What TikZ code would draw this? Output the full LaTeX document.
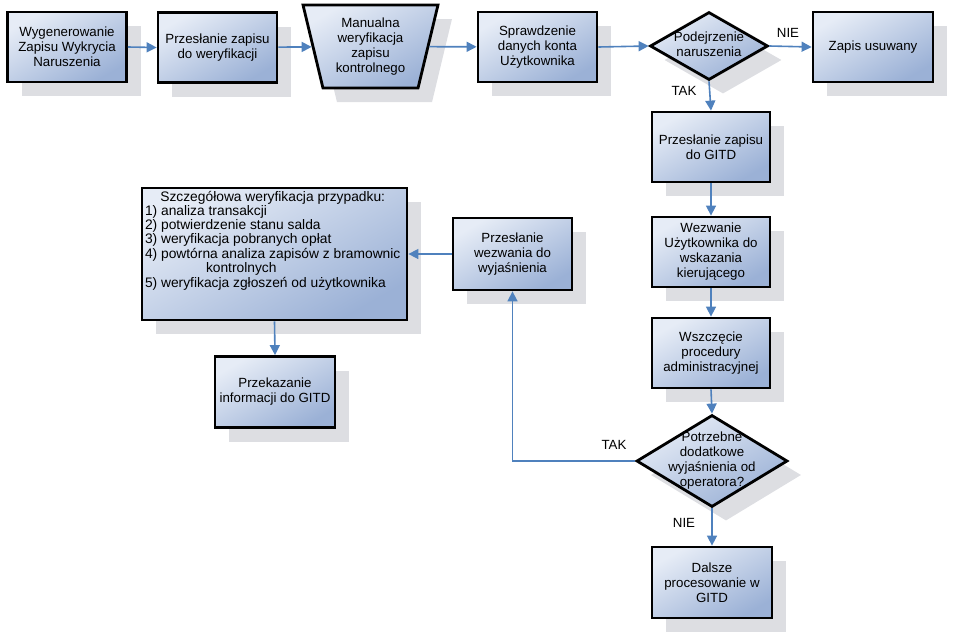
\documentclass[tikz,border=0pt]{standalone}
\usepackage{fontspec}
\setmainfont{Liberation Sans}
\usetikzlibrary{shapes.geometric, shadows, arrows.meta}

\definecolor{boxlight}{RGB}{230,236,246}
\definecolor{boxdark}{RGB}{155,177,214}
\definecolor{shadowgray}{RGB}{221,222,226}
\definecolor{flowblue}{RGB}{79,129,189}

\newcommand{\decisiontext}[1]{\makebox[0pt]{\smash{\raisebox{-4pt}{\begin{tabular}{@{}c@{}}#1\end{tabular}}}}}

\begin{document}
\begin{tikzpicture}[x=1pt, y=-1pt,
	font=\fontsize{13.3pt}{15pt}\selectfont,
	shaded/.style={draw=black, line width=2.8pt, top color=boxlight, bottom color=boxdark, shading angle=30,
		drop shadow={shadow xshift=14pt, shadow yshift=-14pt, fill=shadowgray, opacity=1, draw=none}},
	process/.style={shaded, rectangle, minimum width=119pt, minimum height=70pt, align=center, inner sep=2pt},
	manual/.style={shaded, trapezium, shape border rotate=180, trapezium left angle=76, trapezium right angle=76,
		trapezium stretches=true, minimum width=135pt, minimum height=83pt, align=center},
	decision/.style={shaded, diamond, inner sep=0pt},
	flow/.style={draw=flowblue, line width=1.6pt, -{Triangle[width=10pt, length=10pt]}},
	answer/.style={font=\fontsize{13.3pt}{15pt}\selectfont}]
	\useasboundingbox (0, 0) rectangle (956, 643);
	% top row
	\node (w1) at (67, 47) [process] {Wygenerowanie\\Zapisu Wykrycia\\Naruszenia};
	\node (p1) at (217.5, 47.5) [process] {Przesłanie zapisu\\do weryfikacji};
	\node (man) at (370.5, 46.5) [manual] {Manualna\\weryfikacja\\zapisu\\kontrolnego};
	\node (spr) at (537.5, 47) [process] {Sprawdzenie\\danych konta\\Użytkownika};
	\node (dia1) at (709, 46) [decision, minimum width=118pt, minimum height=68pt] {\decisiontext{Podejrzenie\\naruszenia}};
	\node (zap) at (873, 47) [process, minimum width=120pt] {Zapis usuwany};
	% right column
	\node (gitd) at (711, 147) [process, minimum width=118pt] {Przesłanie zapisu\\do GITD};
	\node (wez) at (711, 252) [process, minimum width=118pt] {Wezwanie\\Użytkownika do\\wskazania\\kierującego};
	\node (wsz) at (711, 353) [process, minimum width=118pt] {Wszczęcie\\procedury\\administracyjnej};
	\node (dia2) at (712, 461) [decision, minimum width=151pt, minimum height=92pt] {\decisiontext{Potrzebne\\dodatkowe\\wyjaśnienia od\\operatora?}};
	\node (dal) at (712, 582.5) [process, minimum width=120pt, minimum height=71pt] {Dalsze\\procesowanie w\\GITD};
	% left part
	\node (prz) at (512.5, 254) [process, minimum height=72pt] {Przesłanie\\wezwania do\\wyjaśnienia};
	\node (szcz) at (274.5, 254) [process, minimum width=265pt, minimum height=132pt, inner sep=3pt, align=left]
		{\parbox[c][126pt][t]{259pt}{\fontsize{13.8pt}{14.2pt}\selectfont\begin{tabular}[t]{@{}l@{}}
		\multicolumn{1}{c}{Szczegółowa weryfikacja przypadku:}\\
		1) analiza transakcji\\
		2) potwierdzenie stanu salda\\
		3) weryfikacja pobranych opłat\\
		4) powtórna analiza zapisów z bramownic\\
		\hspace*{61pt}kontrolnych\\
		5) weryfikacja zgłoszeń od użytkownika
		\end{tabular}}};
	\node (prk) at (275, 392) [process, minimum width=120pt, minimum height=71pt] {Przekazanie\\informacji do GITD};
	% answers
	\node (nie1) at (788, 33) [answer] {NIE};
	\node (tak1) at (684, 91) [answer] {TAK};
	\node (tak2) at (614, 445) [answer] {TAK};
	\node (nie2) at (684, 523) [answer] {NIE};
	% connectors
	\draw [flow] (w1.east) -- (p1.west);
	\draw [flow] (p1) -- (man);
	\draw [flow] (man) -- (spr);
	\draw [flow] (spr.east) -- (dia1.west);
	\draw [flow] (dia1.east) -- (zap.west);
	\draw [flow] (dia1.south) -- (gitd.north);
	\draw [flow] (gitd.south) -- (wez.north);
	\draw [flow] (wez.south) -- (wsz.north);
	\draw [flow] (wsz.south) -- (dia2.north);
	\draw [flow] (dia2.south) -- (dal.north);
	\draw [flow] (dia2.west) -| (prz.south);
	\draw [flow] (prz.west) -- (szcz.east);
	\draw [flow] (szcz.south) -- (prk.north);
\end{tikzpicture}
\end{document}
